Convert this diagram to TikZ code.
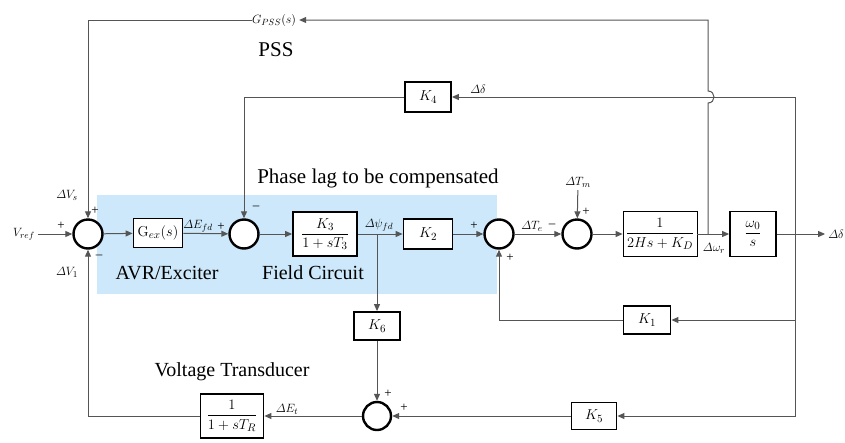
\documentclass[tikz,border=0pt]{standalone}
\usepackage{amsmath}
\usepackage[no-math]{fontspec}
\setmainfont{Liberation Serif}
\usetikzlibrary{arrows.meta}
\definecolor{bgblue}{RGB}{204,232,250}
\definecolor{wirec}{RGB}{85,85,85}
\begin{document}
\begin{tikzpicture}[x=1pt,y=-1pt,
  blk/.style={draw=black, line width=1.8pt, fill=white, inner sep=1pt, font=\fontsize{15}{17}\selectfont},
  sumj/.style={circle, draw=black, line width=2.4pt, fill=white, minimum size=29pt, inner sep=0pt},
  wire/.style={draw=wirec, line width=1pt},
  arr/.style={wire, -{Triangle[length=7pt,width=6pt]}},
  sg/.style={font=\fontsize{13}{13}\selectfont, inner sep=0pt},
  lab/.style={font=\fontsize{12.5}{13}\selectfont, inner sep=0pt},
  big/.style={font=\fontsize{20}{22}\selectfont, inner sep=0pt}]
\fill[white] (0,0) rectangle (845,442);
\useasboundingbox (0,0) rectangle (845,442);
\fill[bgblue] (97,195) rectangle (497,294);

% blocks
\node[sumj] (s1) at (88,234) {};
\node[blk, minimum width=49pt, minimum height=29pt] (gex) at (158,233) {$\mathrm{G}_{ex}(s)$};
\node[sumj] (s2) at (244,234) {};
\node[blk, minimum width=64pt, minimum height=44pt] (fc) at (325,234) {$\dfrac{K_3}{1+sT_3}$};
\node[blk, minimum width=49pt, minimum height=30pt] (k2) at (428,234) {$K_2$};
\node[sumj] (s3) at (499,234) {};
\node[sumj] (s4) at (577,234) {};
\node[blk, line width=0.8pt, minimum width=74pt, minimum height=45pt] (gen) at (660,234) {$\dfrac{1}{2Hs+K_D}$};
\node[blk, minimum width=46pt, minimum height=45pt] (w0) at (753,234) {$\dfrac{\omega_0}{s}$};
\node[blk, minimum width=46pt, minimum height=30pt] (k4) at (428,97) {$K_4$};
\node[blk, minimum width=47pt, minimum height=28pt] (k1) at (647,320) {$K_1$};
\node[blk, minimum width=45pt, minimum height=27pt] (k5) at (594,416) {$K_5$};
\node[blk, minimum width=46pt, minimum height=28pt] (k6) at (377,326) {$K_6$};
\node[sumj, minimum size=28pt] (s5) at (377,416) {};
\node[blk, minimum width=63pt, minimum height=44pt] (tr) at (232,416) {$\dfrac{1}{1+sT_R}$};

% signal labels
\node[lab] (vref) at (24,234) {$V_{ref}$};
\node[lab, font=\fontsize{13}{13}\selectfont] (pss) at (274,20) {$G_{PSS}(s)$};
\node[lab] (dout) at (836,234) {$\varDelta\delta$};
\node[lab] (tm) at (578,182) {$\varDelta T_m$};
\coordinate (jw) at (708,234);
\coordinate (jd) at (795,234);
\coordinate (jk1) at (795,320);
\coordinate (jpsi) at (377,234);

% connectors
\draw[arr, shorten <=3pt] (vref) -- (s1);
\draw[arr] (s1) -- (gex);
\draw[arr] (gex) -- (s2);
\draw[arr] (s2) -- (fc);
\draw[arr] (fc) -- (k2);
\draw[arr] (k2) -- (s3);
\draw[arr] (s3) -- (s4);
\draw[arr] (s4) -- (gen);
\draw[arr] (gen) -- (w0);
\draw[arr, shorten >=3pt] (w0) -- (dout);
\draw[arr, shorten <=3pt] (tm) -- (s4);
\draw[arr] (jd) |- (k4.east);
\draw[arr] (k4.west) -| (s2.north);
\draw[arr] (jd) |- (k5.east);
\draw[arr] (jk1) -- (k1.east);
\draw[arr] (k1.west) -| (s3.south);
\draw[arr] (jpsi) -- (k6.north);
\draw[arr] (k6.south) -- (s5.north);
\draw[arr] (k5.west) -- (s5.east);
\draw[arr] (s5.west) -- (tr.east);
\draw[arr] (tr.west) -| (s1.south);
\draw[arr, shorten >=3pt] (jw) -- (708,103) .. controls (716,103) and (716,91) .. (708,91) |- (pss.east);
\draw[arr] (pss.west) -| (s1.north);

% signs
\node[sg] at (61,226) {+};
\node[sg] at (95,211) {+};
\node[sg] at (99,257) {–};
\node[sg] at (221,227) {+};
\node[sg] at (256,208) {–};
\node[sg] at (474,226) {+};
\node[sg] at (510,258) {+};
\node[sg] at (552,226) {–};
\node[sg] at (586,212) {+};
\node[sg] at (388,394) {+};
\node[sg] at (404,408) {+};

% small labels
\node[lab] at (67,195) {$\varDelta V_s$};
\node[lab] at (67,272) {$\varDelta V_1$};
\node[lab] at (198,226) {$\varDelta E_{fd}$};
\node[lab] at (379,225) {$\varDelta\psi_{fd}$};
\node[lab] at (532,226) {$\varDelta T_e$};
\node[lab] at (714,248) {$\varDelta\omega_r$};
\node[lab] at (287,409) {$\varDelta E_t$};
\node[lab] at (478,89) {$\varDelta\delta$};

% titles
\node[big, font=\fontsize{21}{23}\selectfont] at (276,50) {PSS};
\node[big, font=\fontsize{21}{23}\selectfont] at (378,178) {Phase lag to be compensated};
\node[big] at (167,273) {AVR/Exciter};
\node[big] at (313,273) {Field Circuit};
\node[big] at (232,372) {Voltage Transducer};
\end{tikzpicture}
\end{document}
